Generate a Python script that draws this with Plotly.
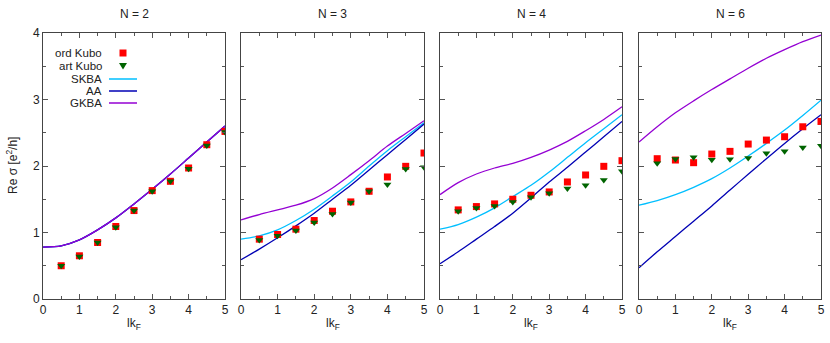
import plotly.graph_objects as go

# ---- data ----
x_pts = [0.5, 1.0, 1.5, 2.0, 2.5, 3.0, 3.5, 4.0, 4.5, 5.0]
x_line = [0.0, 0.5, 1.0, 1.5, 2.0, 2.5, 3.0, 3.5, 4.0, 4.5, 5.0]
panel_titles = ["N = 2", "N = 3", "N = 4", "N = 6"]

ord_kubo = [
    [0.50, 0.65, 0.85, 1.09, 1.33, 1.63, 1.77, 1.97, 2.32, 2.52],
    [0.90, 0.97, 1.05, 1.18, 1.32, 1.46, 1.62, 1.835, 1.995, 2.195],
    [1.34, 1.39, 1.43, 1.50, 1.56, 1.61, 1.76, 1.865, 1.995, 2.08],
    [2.11, 2.09, 2.05, 2.18, 2.22, 2.33, 2.39, 2.44, 2.59, 2.67],
]
art_kubo = [
    [0.50, 0.64, 0.85, 1.08, 1.33, 1.62, 1.77, 1.96, 2.31, 2.51],
    [0.887, 0.95, 1.03, 1.15, 1.28, 1.45, 1.62, 1.72, 1.955, 1.98],
    [1.32, 1.37, 1.40, 1.46, 1.53, 1.59, 1.66, 1.71, 1.79, 1.92],
    [2.04, 2.105, 2.13, 2.095, 2.10, 2.12, 2.19, 2.22, 2.28, 2.305],
]
skba = [
    [0.78, 0.80, 0.89, 1.04, 1.22, 1.43, 1.65, 1.88, 2.12, 2.36, 2.60],
    [0.90, 0.95, 1.04, 1.18, 1.35, 1.55, 1.76, 2.00, 2.23, 2.44, 2.65],
    [1.05, 1.12, 1.23, 1.37, 1.54, 1.71, 1.91, 2.13, 2.35, 2.56, 2.77],
    [1.41, 1.48, 1.57, 1.68, 1.81, 1.97, 2.15, 2.34, 2.54, 2.76, 2.99],
]
aa = [
    [0.78, 0.80, 0.89, 1.04, 1.22, 1.43, 1.65, 1.88, 2.12, 2.36, 2.60],
    [0.59, 0.75, 0.92, 1.10, 1.29, 1.50, 1.71, 1.94, 2.17, 2.40, 2.63],
    [0.53, 0.71, 0.90, 1.09, 1.29, 1.52, 1.76, 1.98, 2.21, 2.44, 2.67],
    [0.47, 0.71, 0.94, 1.17, 1.40, 1.64, 1.875, 2.11, 2.34, 2.56, 2.77],
]
gkba = [
    [0.78, 0.80, 0.89, 1.04, 1.22, 1.43, 1.65, 1.88, 2.12, 2.36, 2.60],
    [1.19, 1.27, 1.34, 1.41, 1.51, 1.67, 1.87, 2.08, 2.30, 2.49, 2.68],
    [1.57, 1.75, 1.88, 1.97, 2.04, 2.13, 2.24, 2.37, 2.53, 2.70, 2.89],
    [2.36, 2.59, 2.80, 2.98, 3.15, 3.31, 3.47, 3.62, 3.75, 3.87, 3.97],
]
legend_labels = ["ord Kubo", "art Kubo", "SKBA", "AA", "GKBA"]

# ---- style ----
W, H = 830, 343
RED = "#ff0000"
GREEN = "#006400"
SKBA_C = "#00bfff"
AA_C = "#0000b4"
GKBA_C = "#9400d3"
FONT = "Liberation Sans, Arial, sans-serif"
FS = 12

px_domains = [(43, 225), (241, 424), (440, 622), (639, 821)]
y_top, y_bot = 33, 299

fig = go.Figure()
for i in range(4):
    xa = "x" if i == 0 else f"x{i+1}"
    ya = "y" if i == 0 else f"y{i+1}"
    for vals, col in [(skba[i], SKBA_C), (aa[i], AA_C), (gkba[i], GKBA_C)]:
        fig.add_trace(go.Scatter(x=x_line, y=vals, mode="lines",
                                 line=dict(color=col, width=1.3, shape="spline", smoothing=0.8),
                                 xaxis=xa, yaxis=ya, showlegend=False, hoverinfo="skip"))
    fig.add_trace(go.Scatter(x=x_pts, y=ord_kubo[i], mode="markers",
                             marker=dict(symbol="square", size=7, color=RED, line=dict(width=0)),
                             xaxis=xa, yaxis=ya, showlegend=False))
    fig.add_trace(go.Scatter(x=x_pts, y=art_kubo[i], mode="markers",
                             marker=dict(symbol="triangle-down", size=7, color=GREEN, line=dict(width=0)),
                             xaxis=xa, yaxis=ya, showlegend=False))

layout = dict(
    width=W, height=H, margin=dict(l=0, r=0, t=0, b=0, autoexpand=False),
    paper_bgcolor="white", plot_bgcolor="white",
    font=dict(family=FONT, size=FS, color="#222222"),
    showlegend=False,
)
ydom = [1 - y_bot / H, 1 - y_top / H]
annotations = []
shapes = []
for i, (a, b) in enumerate(px_domains):
    k = "" if i == 0 else str(i + 1)
    layout["xaxis" + k] = dict(
        domain=[a / W, b / W], range=[0, 5], tickvals=[0, 1, 2, 3, 4, 5],
        ticks="inside", ticklen=5, tickcolor="#555555", showline=True, linecolor="#444444",
        linewidth=1, mirror="allticks", showgrid=False, zeroline=False,
        minor=dict(dtick=0.5, ticks="inside", ticklen=3, tickcolor="#555555"),
        tickfont=dict(size=FS), anchor="y" + k, automargin=False,
    )
    layout["yaxis" + k] = dict(
        domain=ydom, range=[0, 4], tickvals=[0, 1, 2, 3, 4],
        ticks="inside", ticklen=5, tickcolor="#555555", showline=True, linecolor="#444444",
        linewidth=1, mirror="allticks", showgrid=False, zeroline=False,
        minor=dict(dtick=0.5, ticks="inside", ticklen=3, tickcolor="#555555"),
        showticklabels=(i == 0), tickfont=dict(size=FS), anchor="x" + k, automargin=False,
    )
    cxp = (a + b) / 2 / W
    annotations.append(dict(text=panel_titles[i], x=cxp, y=1 - 14 / H,
                            xref="paper", yref="paper", showarrow=False,
                            font=dict(size=FS), xanchor="center", yanchor="middle"))
    annotations.append(dict(text="lk<sub>F</sub>", x=cxp, y=1 - 324 / H,
                            xref="paper", yref="paper", showarrow=False,
                            font=dict(size=FS), xanchor="center", yanchor="middle"))

annotations.append(dict(text="Re σ [e<sup>2</sup>/h]", x=12 / W, y=1 - 166 / H,
                        xref="paper", yref="paper", showarrow=False, textangle=-90,
                        font=dict(size=FS), xanchor="center", yanchor="middle"))

# custom legend (text right-aligned, key on the right, like the reference)
leg_y = [53, 66, 79, 91, 103]
for lab, yy in zip(legend_labels, leg_y):
    annotations.append(dict(text=lab, x=104 / W, y=1 - yy / H, xref="paper", yref="paper",
                            showarrow=False, xanchor="right", yanchor="middle",
                            font=dict(size=11.5)))
cx = 123
shapes.append(dict(type="rect", xref="paper", yref="paper",
                   x0=(cx - 3.5) / W, x1=(cx + 3.5) / W,
                   y0=1 - (leg_y[0] + 3.5) / H, y1=1 - (leg_y[0] - 3.5) / H,
                   fillcolor=RED, line=dict(width=0)))
def P(xp, yp):
    return f"{xp / W:.5f},{1 - yp / H:.5f}"
ty = leg_y[1]
shapes.append(dict(type="path", xref="paper", yref="paper",
                   path=f"M {P(cx-4, ty-3)} L {P(cx+4, ty-3)} L {P(cx, ty+3.5)} Z",
                   fillcolor=GREEN, line=dict(width=0)))
for col, yy in zip([SKBA_C, AA_C, GKBA_C], leg_y[2:]):
    shapes.append(dict(type="line", xref="paper", yref="paper",
                       x0=109 / W, x1=137 / W, y0=1 - yy / H, y1=1 - yy / H,
                       line=dict(color=col, width=1.5)))

layout["annotations"] = annotations
layout["shapes"] = shapes
fig.update_layout(**layout)
fig.write_html("out.html", config={"displayModeBar": False},
               post_script="document.body.style.margin='0';document.body.style.overflow='hidden';")
